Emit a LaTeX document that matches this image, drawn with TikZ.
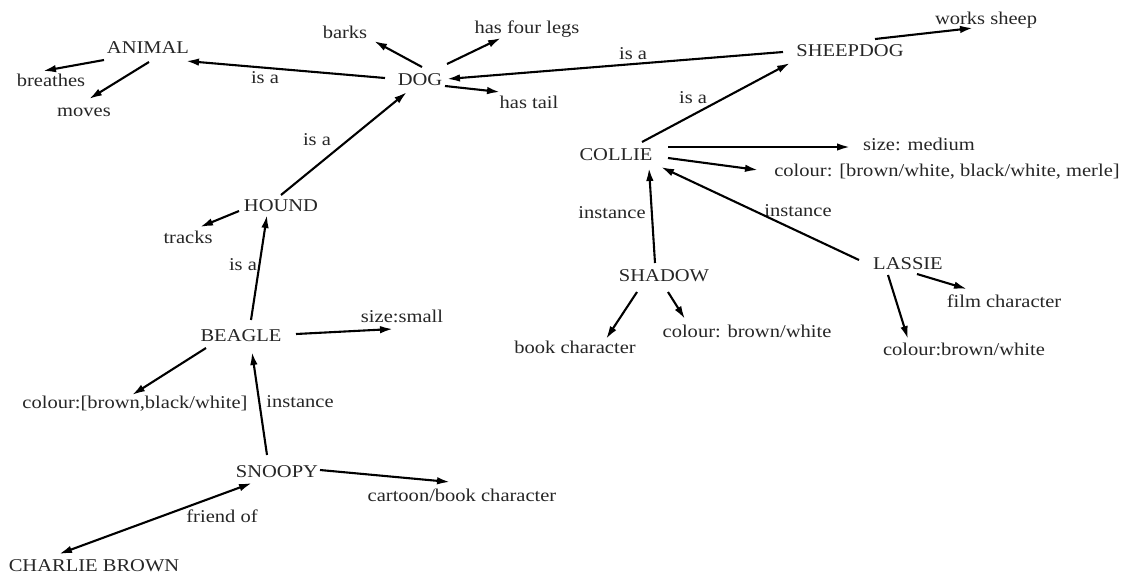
\documentclass[tikz,border=0pt]{standalone}
\usepackage{fontspec}
\setmainfont{Liberation Serif}[FakeStretch=1.14]
\usetikzlibrary{arrows.meta,calc}
\begin{document}
\begin{tikzpicture}[x=1pt,y=-1pt,
  lbl/.style={inner sep=0pt, text=black!85, font=\fontsize{18}{20}\selectfont, text height=11.9pt, text depth=0pt},
  arr/.style={line width=2.1pt, -{Latex[length=13pt,width=7.5pt]}},
  darr/.style={line width=2.1pt, {Latex[length=13pt,width=7.5pt]}-{Latex[length=13pt,width=7.5pt]}}]
\fill[white] (0,0) rectangle (1124,574);
\useasboundingbox (0,0) rectangle (1124,574);
% concept nodes
\node[lbl] (ANIMAL) at (148,48) {ANIMAL};
\node[lbl] (breathes) at (51,81) {breathes};
\node[lbl] (moves) at (84,111) {moves};
\node[lbl] (barks) at (345,33) {barks};
\node[lbl] (hasfour) at (527,28) {has four legs};
\node[lbl] (DOG) at (420,80) {DOG};
\node[lbl] (hastail) at (529,103) {has tail};
\node[lbl] (SHEEPDOG) at (850,51) {SHEEPDOG};
\node[lbl] (works) at (986,19) {works sheep};
\node[lbl] (HOUND) at (281,206) {HOUND};
\node[lbl] (tracks) at (188,238) {tracks};
\node[lbl] (COLLIE) at (616,155) {COLLIE};
\node[lbl] (sizemed) at (919,145) {size: medium};
\node[lbl] (colourC) at (947,171) {colour: [brown/white, black/white, merle]};
\node[lbl] (SHADOW) at (664,276) {SHADOW};
\node[lbl] (LASSIE) at (908,264) {LASSIE};
\node[lbl] (book) at (575,348) {book character};
\node[lbl] (colourSh) at (747,332) {colour: brown/white};
\node[lbl] (film) at (1004,302) {film character};
\node[lbl] (colourL) at (964,350) {colour:brown/white};
\node[lbl] (BEAGLE) at (241,336) {BEAGLE};
\node[lbl] (sizesmall) at (402,317) {size:small};
\node[lbl] (colourB) at (135,403) {colour:[brown,black/white]};
\node[lbl] (SNOOPY) at (277,472) {SNOOPY};
\node[lbl] (cartoon) at (462,496) {cartoon/book character};
\node[lbl] (CHARLIE) at (94,566) {CHARLIE BROWN};
% edge labels
\node[lbl] (isa1) at (265,78) {is a};
\node[lbl] (isa2) at (317,140) {is a};
\node[lbl] (isa3) at (633,54) {is a};
\node[lbl] (isa4) at (693,98) {is a};
\node[lbl] (isa5) at (243,265) {is a};
\node[lbl] (inst1) at (612,213) {instance};
\node[lbl] (inst2) at (798,211) {instance};
\node[lbl] (inst3) at (300,402) {instance};
\node[lbl] (friend) at (222,517) {friend of};
% connectors
\draw[arr] ($(ANIMAL)+(-44,12)$) -- ($(breathes)+(-8,-10)$);
\draw[arr] ($(ANIMAL)+(1,14)$) -- ($(moves)+(5,-12)$);
\draw[arr] ($(DOG)+(-35,-2)$) -- ($(ANIMAL)+(38,13)$);
\draw[arr] ($(DOG)+(2,-13)$) -- ($(barks)+(29,8)$);
\draw[arr] ($(DOG)+(27,-16)$) -- ($(hasfour)+(-26,10)$);
\draw[arr] ($(DOG)+(25,6)$) -- ($(hastail)+(-29,-11)$);
\draw[arr] ($(SHEEPDOG)+(-67,1)$) -- ($(DOG)+(27,-1)$);
\draw[arr] ($(SHEEPDOG)+(25,-12)$) -- ($(works)+(-13,9)$);
\draw[arr] ($(HOUND)+(0,-11)$) -- ($(DOG)+(-13,12)$);
\draw[arr] ($(HOUND)+(-42,5)$) -- ($(tracks)+(12,-11)$);
\draw[arr] ($(COLLIE)+(26,-13)$) -- ($(SHEEPDOG)+(-60,12)$);
\draw[arr] ($(COLLIE)+(52,-8)$) -- ($(sizemed)+(-69,2)$);
\draw[arr] ($(COLLIE)+(52,3)$) -- ($(colourC)+(-189,-1)$);
\draw[arr] ($(SHADOW)+(-9,-13)$) -- ($(COLLIE)+(33,13)$);
\draw[arr] ($(LASSIE)+(-49,-4)$) -- ($(COLLIE)+(45,12)$);
\draw[arr] ($(SHADOW)+(-27,16)$) -- ($(book)+(31,-9)$);
\draw[arr] ($(SHADOW)+(4,16)$) -- ($(colourSh)+(-62,-13)$);
\draw[arr] ($(LASSIE)+(-20,11)$) -- ($(colourL)+(-56,-11)$);
\draw[arr] ($(LASSIE)+(9,10)$) -- ($(film)+(-37,-13)$);
\draw[arr] ($(BEAGLE)+(10,-16)$) -- ($(HOUND)+(-14,9)$);
\draw[arr] ($(BEAGLE)+(55,-2)$) -- ($(sizesmall)+(-9,12)$);
\draw[arr] ($(BEAGLE)+(-35,12)$) -- ($(colourB)+(-3,-8)$);
\draw[arr] ($(SNOOPY)+(-10,-17)$) -- ($(BEAGLE)+(11,16)$);
\draw[arr] ($(SNOOPY)+(43,-2)$) -- ($(cartoon)+(-12,-14)$);
\draw[darr] ($(SNOOPY)+(-25,11)$) -- ($(CHARLIE)+(-35,-12)$);
\end{tikzpicture}
\end{document}
